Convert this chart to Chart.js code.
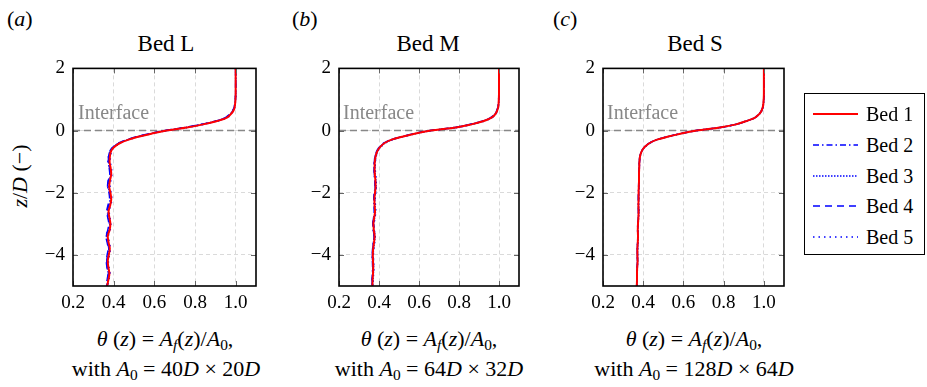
<!DOCTYPE html>
<html>
<head>
<meta charset="utf-8">
<script src="https://cdn.jsdelivr.net/npm/chart.js@4.4.0/dist/chart.umd.min.js"></script>
<style>
  body { margin: 0; width: 927px; height: 387px; background: #fff; position: relative; overflow: hidden;
         font-family: "Liberation Serif", "Tinos", "Times New Roman", Times, "DejaVu Serif", "Noto Serif", FreeSerif, serif; color: #000; }
  .txt { position: absolute; white-space: nowrap; line-height: 1; }
  .c { transform: translateX(-50%); }
  sub { font-size: 70%; vertical-align: -0.28em; line-height: 0; }
  .panel { position: absolute; top: 49px; height: 271px; }
  #legend { position: absolute; left: 804px; top: 93px; width: 121px; height: 162px; border: 1.5px solid #000; box-sizing: border-box; }
  .row { position: absolute; left: 8px; width: 110px; height: 24px; white-space: nowrap; }
  .row svg { position: absolute; left: 0; top: 7px; }
  .row span { position: absolute; left: 53px; top: 2px; font-size: 20px; line-height: 1; white-space: nowrap; }
</style>
</head>
<body>

<div class="txt" style="left:7px;top:8px;font-size:22px">(<i>a</i>)</div>
<div class="txt" style="left:292px;top:8px;font-size:22px">(<i>b</i>)</div>
<div class="txt" style="left:553px;top:8px;font-size:22px">(<i>c</i>)</div>

<div class="txt c" style="left:166px;top:32px;font-size:23px">Bed L</div>
<div class="txt c" style="left:428px;top:32px;font-size:23px">Bed M</div>
<div class="txt c" style="left:695px;top:32px;font-size:23px">Bed S</div>

<div class="txt" style="left:20px;top:176px;font-size:22px;transform:translate(-50%,-50%) rotate(-90deg)"><i>z</i>/<i>D</i> (−)</div>

<div class="panel" style="left:13px;width:251px"><canvas id="chartL"></canvas></div>
<div class="panel" style="left:279px;width:248px"><canvas id="chartM"></canvas></div>
<div class="panel" style="left:543px;width:249px"><canvas id="chartS"></canvas></div>

<div class="txt" style="left:78px;top:102px;font-size:20px;color:#888">Interface</div>
<div class="txt" style="left:343px;top:102px;font-size:20px;color:#888">Interface</div>
<div class="txt" style="left:607px;top:102px;font-size:20px;color:#888">Interface</div>

<div class="txt c" style="left:165px;top:328px;font-size:22px"><i>θ</i> (<i>z</i>) = <i>A<sub>f</sub></i>(<i>z</i>)/<i>A</i><sub>0</sub>,</div>
<div class="txt c" style="left:166px;top:358px;font-size:22px">with <i>A</i><sub>0</sub> = 40<i>D</i> × 20<i>D</i></div>
<div class="txt c" style="left:429px;top:328px;font-size:22px"><i>θ</i> (<i>z</i>) = <i>A<sub>f</sub></i>(<i>z</i>)/<i>A</i><sub>0</sub>,</div>
<div class="txt c" style="left:429px;top:358px;font-size:22px">with <i>A</i><sub>0</sub> = 64<i>D</i> × 32<i>D</i></div>
<div class="txt c" style="left:694px;top:328px;font-size:22px"><i>θ</i> (<i>z</i>) = <i>A<sub>f</sub></i>(<i>z</i>)/<i>A</i><sub>0</sub>,</div>
<div class="txt c" style="left:694px;top:358px;font-size:22px">with <i>A</i><sub>0</sub> = 128<i>D</i> × 64<i>D</i></div>

<div id="legend"></div>

<script>
// vertical positions z/D shared by every profile
const zD = [2.0, 1.6, 1.2, 1.0, 0.8, 0.7, 0.6, 0.5, 0.4, 0.3, 0.2, 0.1, 0.0, -0.1, -0.2, -0.3, -0.4, -0.5, -0.6, -0.7, -0.8,
  -1.0, -1.2, -1.4, -1.6, -1.8, -2.0, -2.2, -2.4, -2.6, -2.8, -3.0, -3.2, -3.4, -3.6, -3.8, -4.0, -4.2, -4.4, -4.6, -4.8, -5.0];

const thetaTicks = [0.2, 0.4, 0.6, 0.8, 1.0];
const zTicks = [-4, -2, 0, 2];
const interfaceTheta = [0.2, 1.1];
const bedNames = ['Bed 1', 'Bed 2', 'Bed 3', 'Bed 4', 'Bed 5'];

// Bed L (a)
const bedL1 = [1.0, 1.0, 1.0, 0.999, 0.996, 0.993, 0.985, 0.972, 0.952, 0.905, 0.84, 0.76, 0.66, 0.585, 0.52, 0.47, 0.432, 0.408, 0.393, 0.385, 0.382,
  0.38, 0.385, 0.388, 0.382, 0.378, 0.384, 0.388, 0.383, 0.375, 0.379, 0.384, 0.38, 0.371, 0.375, 0.381, 0.376, 0.371, 0.374, 0.379, 0.374, 0.368];
const bedL2 = [1.0, 1.0, 1.0, 0.999, 0.995, 0.99, 0.982, 0.968, 0.945, 0.9, 0.835, 0.752, 0.655, 0.578, 0.515, 0.466, 0.428, 0.404, 0.388, 0.38, 0.376,
  0.372, 0.38, 0.384, 0.375, 0.371, 0.38, 0.383, 0.376, 0.369, 0.374, 0.379, 0.374, 0.364, 0.37, 0.376, 0.37, 0.366, 0.369, 0.374, 0.37, 0.365];
const bedL3 = [1.0, 1.0, 1.0, 0.999, 0.996, 0.992, 0.984, 0.97, 0.95, 0.903, 0.838, 0.758, 0.662, 0.582, 0.518, 0.468, 0.43, 0.406, 0.39, 0.383, 0.379,
  0.376, 0.382, 0.386, 0.379, 0.374, 0.381, 0.386, 0.38, 0.372, 0.376, 0.381, 0.377, 0.368, 0.372, 0.378, 0.373, 0.368, 0.371, 0.376, 0.372, 0.366];
const bedL4 = [1.0, 1.0, 1.0, 0.998, 0.994, 0.99, 0.981, 0.966, 0.944, 0.898, 0.832, 0.75, 0.652, 0.575, 0.512, 0.462, 0.425, 0.402, 0.387, 0.379, 0.375,
  0.374, 0.378, 0.381, 0.373, 0.37, 0.377, 0.38, 0.372, 0.366, 0.371, 0.376, 0.371, 0.362, 0.368, 0.373, 0.368, 0.364, 0.367, 0.372, 0.368, 0.364];
const bedL5 = [1.0, 1.0, 1.0, 0.999, 0.997, 0.993, 0.986, 0.974, 0.955, 0.908, 0.843, 0.764, 0.664, 0.588, 0.522, 0.472, 0.434, 0.41, 0.395, 0.388, 0.385,
  0.383, 0.389, 0.391, 0.386, 0.382, 0.387, 0.391, 0.386, 0.378, 0.382, 0.386, 0.383, 0.374, 0.378, 0.384, 0.379, 0.374, 0.377, 0.382, 0.377, 0.371];

// Bed M (b)
const bedM1 = [1.0, 1.0, 1.0, 0.999, 0.997, 0.994, 0.988, 0.978, 0.958, 0.92, 0.862, 0.785, 0.66, 0.578, 0.515, 0.46, 0.428, 0.41, 0.397, 0.389, 0.384,
  0.379, 0.378, 0.379, 0.382, 0.383, 0.38, 0.377, 0.378, 0.38, 0.376, 0.372, 0.374, 0.378, 0.375, 0.371, 0.369, 0.37, 0.371, 0.37, 0.368, 0.367];
const bedM2 = [1.0, 1.0, 1.0, 0.999, 0.996, 0.993, 0.986, 0.975, 0.954, 0.916, 0.858, 0.78, 0.657, 0.575, 0.512, 0.458, 0.426, 0.408, 0.395, 0.387, 0.382,
  0.376, 0.375, 0.376, 0.379, 0.38, 0.377, 0.374, 0.375, 0.377, 0.373, 0.369, 0.371, 0.375, 0.372, 0.368, 0.366, 0.367, 0.368, 0.367, 0.365, 0.365];
const bedM3 = [1.0, 1.0, 1.0, 0.999, 0.997, 0.994, 0.989, 0.979, 0.96, 0.922, 0.864, 0.787, 0.662, 0.58, 0.517, 0.462, 0.43, 0.412, 0.399, 0.391, 0.386,
  0.381, 0.38, 0.381, 0.384, 0.385, 0.382, 0.379, 0.38, 0.382, 0.378, 0.374, 0.376, 0.38, 0.377, 0.373, 0.371, 0.372, 0.373, 0.372, 0.37, 0.369];
const bedM4 = [1.0, 1.0, 1.0, 0.998, 0.996, 0.992, 0.985, 0.974, 0.953, 0.914, 0.856, 0.778, 0.655, 0.573, 0.511, 0.457, 0.425, 0.407, 0.394, 0.386, 0.381,
  0.377, 0.376, 0.377, 0.38, 0.381, 0.377, 0.375, 0.376, 0.377, 0.373, 0.37, 0.372, 0.375, 0.372, 0.369, 0.367, 0.368, 0.369, 0.368, 0.366, 0.365];
const bedM5 = [1.0, 1.0, 1.0, 0.999, 0.998, 0.995, 0.99, 0.98, 0.961, 0.924, 0.866, 0.789, 0.664, 0.582, 0.519, 0.464, 0.432, 0.413, 0.4, 0.392, 0.387,
  0.382, 0.381, 0.383, 0.386, 0.386, 0.384, 0.381, 0.382, 0.384, 0.38, 0.376, 0.377, 0.381, 0.378, 0.374, 0.372, 0.373, 0.374, 0.373, 0.371, 0.37];

// Bed S (c)
const bedS1 = [1.0, 1.0, 1.0, 0.999, 0.996, 0.992, 0.985, 0.972, 0.952, 0.91, 0.862, 0.782, 0.666, 0.585, 0.52, 0.465, 0.432, 0.412, 0.398, 0.39, 0.385,
  0.381, 0.38, 0.379, 0.379, 0.378, 0.377, 0.377, 0.376, 0.377, 0.376, 0.374, 0.373, 0.374, 0.373, 0.371, 0.371, 0.372, 0.37, 0.369, 0.369, 0.368];
const bedS2 = [1.0, 1.0, 1.0, 0.999, 0.996, 0.991, 0.984, 0.97, 0.95, 0.908, 0.86, 0.78, 0.664, 0.583, 0.518, 0.464, 0.431, 0.411, 0.397, 0.389, 0.384,
  0.38, 0.379, 0.378, 0.378, 0.377, 0.376, 0.376, 0.375, 0.376, 0.375, 0.373, 0.372, 0.373, 0.372, 0.37, 0.37, 0.371, 0.369, 0.368, 0.368, 0.367];
const bedS3 = [1.0, 1.0, 1.0, 0.999, 0.997, 0.993, 0.986, 0.973, 0.953, 0.911, 0.863, 0.783, 0.667, 0.586, 0.521, 0.466, 0.433, 0.413, 0.399, 0.391, 0.386,
  0.382, 0.381, 0.38, 0.38, 0.379, 0.378, 0.378, 0.377, 0.378, 0.377, 0.375, 0.374, 0.375, 0.374, 0.372, 0.372, 0.373, 0.371, 0.37, 0.37, 0.369];
const bedS4 = [1.0, 1.0, 1.0, 0.999, 0.996, 0.992, 0.985, 0.971, 0.951, 0.909, 0.861, 0.781, 0.665, 0.584, 0.519, 0.465, 0.432, 0.411, 0.398, 0.39, 0.385,
  0.381, 0.38, 0.379, 0.378, 0.378, 0.377, 0.376, 0.376, 0.377, 0.375, 0.374, 0.373, 0.373, 0.372, 0.371, 0.371, 0.371, 0.37, 0.369, 0.368, 0.368];
const bedS5 = [1.0, 1.0, 1.0, 0.999, 0.997, 0.993, 0.986, 0.973, 0.953, 0.911, 0.863, 0.783, 0.667, 0.586, 0.521, 0.466, 0.433, 0.413, 0.399, 0.391, 0.386,
  0.382, 0.381, 0.38, 0.38, 0.379, 0.378, 0.378, 0.377, 0.378, 0.376, 0.375, 0.374, 0.374, 0.373, 0.372, 0.372, 0.372, 0.371, 0.37, 0.369, 0.369];

const lineColors = ['#ff0000', '#0000ff', '#0000ff', '#0000ff', '#0000ff'];
const lineDashes = [[], [6, 3, 1.5, 3], [1.5, 1.5], [7, 5], [1.5, 4]];
const lineWidths = [2, 1.5, 1.5, 1.5, 1.5];

const serif = '"Liberation Serif", "Tinos", "Times New Roman", Times, "DejaVu Serif", "Noto Serif", FreeSerif, serif';

// box round the plot and the small inward ticks on all four sides
const framePlugin = {
  id: 'frame',
  afterDatasetsDraw(chart) {
    const {ctx, chartArea: a, scales: {x, y}} = chart;
    ctx.save();
    ctx.strokeStyle = '#666';
    ctx.lineWidth = 1;
    ctx.beginPath();
    thetaTicks.forEach(v => {
      const px = Math.round(x.getPixelForValue(v)) + 0.5;
      ctx.moveTo(px, a.top); ctx.lineTo(px, a.top + 5);
      ctx.moveTo(px, a.bottom); ctx.lineTo(px, a.bottom - 5);
    });
    zTicks.forEach(v => {
      const py = Math.round(y.getPixelForValue(v)) + 0.5;
      ctx.moveTo(a.left, py); ctx.lineTo(a.left + 5, py);
      ctx.moveTo(a.right, py); ctx.lineTo(a.right - 5, py);
    });
    ctx.stroke();
    ctx.strokeStyle = '#000';
    ctx.lineWidth = 1.6;
    ctx.strokeRect(a.left, a.top, a.right - a.left, a.bottom - a.top);
    ctx.restore();
  }
};

function makeChart(id, beds) {
  const datasets = beds.map((vals, i) => ({
    label: bedNames[i],
    data: vals.map((v, k) => ({x: v, y: zD[k]})),
    borderColor: lineColors[i],
    borderWidth: lineWidths[i],
    borderDash: lineDashes[i],
    pointRadius: 0,
    cubicInterpolationMode: 'monotone',
    fill: false
  }));
  datasets.push({
    label: 'Interface',
    data: interfaceTheta.map(v => ({x: v, y: 0})),
    borderColor: '#888',
    borderWidth: 1.6,
    borderDash: [7, 4],
    pointRadius: 0,
    tension: 0,
    cubicInterpolationMode: 'default'
  });

  return new Chart(document.getElementById(id).getContext('2d'), {
    type: 'line',
    data: {datasets: datasets},
    options: {
      indexAxis: 'y',
      responsive: true,
      maintainAspectRatio: false,
      animation: false,
      layout: {padding: {top: 12, right: 8, left: 0, bottom: 0}},
      plugins: {legend: {display: false}, tooltip: {enabled: false}},
      scales: {
        x: {
          type: 'linear',
          min: 0.2,
          max: 1.1,
          afterBuildTicks: s => { s.ticks = thetaTicks.map(v => ({value: v})); },
          afterFit: s => { s.height = 34; },
          ticks: {
            callback: v => v.toFixed(1),
            font: {family: serif, size: 19},
            color: '#000',
            padding: 6,
            maxRotation: 0,
            autoSkip: false
          },
          grid: {color: '#dadada', lineWidth: 1, drawTicks: false},
          border: {display: false, dash: [4, 3]}
        },
        y: {
          type: 'linear',
          min: -5,
          max: 2,
          afterBuildTicks: s => { s.ticks = zTicks.map(v => ({value: v})); },
          afterFit: s => { s.width = 60; },
          ticks: {
            callback: v => String(v).replace('-', '−'),
            font: {family: serif, size: 19},
            color: '#000',
            padding: 8
          },
          grid: {color: '#dadada', lineWidth: 1, drawTicks: false},
          border: {display: false, dash: [4, 3]}
        }
      }
    },
    plugins: [framePlugin]
  });
}

makeChart('chartL', [bedL1, bedL2, bedL3, bedL4, bedL5]);
makeChart('chartM', [bedM1, bedM2, bedM3, bedM4, bedM5]);
makeChart('chartS', [bedS1, bedS2, bedS3, bedS4, bedS5]);

// legend box
const legend = document.getElementById('legend');
const rowTops = [8, 39, 70, 100, 131];
bedNames.forEach((name, i) => {
  const row = document.createElement('div');
  row.className = 'row';
  row.style.top = rowTops[i] + 'px';
  row.innerHTML = '<svg width="46" height="10"><line x1="0" y1="5" x2="45" y2="5" stroke="' + lineColors[i] +
    '" stroke-width="' + lineWidths[i] + '" stroke-dasharray="' + (lineDashes[i].join(' ') || 'none') + '"/></svg>' +
    '<span>' + name + '</span>';
  legend.appendChild(row);
});
</script>
</body>
</html>
